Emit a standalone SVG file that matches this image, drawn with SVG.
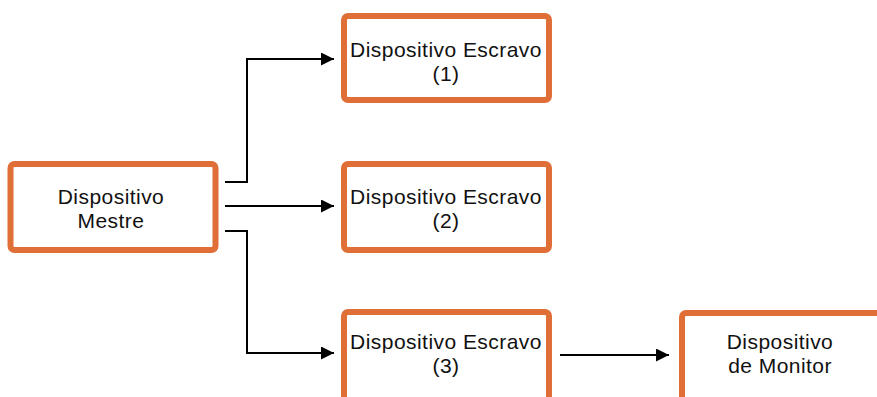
<svg xmlns="http://www.w3.org/2000/svg" width="877" height="397" viewBox="0 0 877 397">
<style>
.box{fill:#fff;stroke:#E06E37;stroke-width:6}
.lbl{font-family:"Liberation Sans",Arial,sans-serif;font-size:21px;letter-spacing:0.45px;fill:#111;text-anchor:middle}
.con{fill:none;stroke:#000;stroke-width:2}
</style>
<defs>
<marker id="ah" viewBox="0 0 10 10" refX="10" refY="5" markerWidth="6.5" markerHeight="6.5" orient="auto" markerUnits="strokeWidth">
<path d="M0,0 L10,5 L0,10 z" fill="#000"/>
</marker>
</defs>
<rect width="877" height="397" fill="#fff"/>
<g id="master">
<rect class="box" x="10.5" y="164" width="205" height="86" rx="4"/>
<text class="lbl" x="111" y="204">Dispositivo</text>
<text class="lbl" x="111" y="228">Mestre</text>
</g>
<g id="slave1">
<rect class="box" x="344" y="16" width="205" height="84" rx="4"/>
<text class="lbl" x="446" y="57">Dispositivo Escravo</text>
<text class="lbl" x="446" y="81">(1)</text>
</g>
<g id="slave2">
<rect class="box" x="344" y="164" width="205" height="86" rx="4"/>
<text class="lbl" x="446" y="204">Dispositivo Escravo</text>
<text class="lbl" x="446" y="228">(2)</text>
</g>
<g id="slave3">
<rect class="box" x="344" y="312" width="205" height="100" rx="4"/>
<text class="lbl" x="446" y="349">Dispositivo Escravo</text>
<text class="lbl" x="446" y="373">(3)</text>
</g>
<g id="monitor">
<rect class="box" x="682" y="313" width="220" height="100" rx="4"/>
<text class="lbl" x="780" y="349">Dispositivo</text>
<text class="lbl" x="780" y="373">de Monitor</text>
</g>
<g id="connectors">
<path class="con" d="M225,182 H247 V59 H334" marker-end="url(#ah)"/>
<path class="con" d="M225,206 H334" marker-end="url(#ah)"/>
<path class="con" d="M225,231 H247 V353 H334" marker-end="url(#ah)"/>
<path class="con" d="M560,355 H669" marker-end="url(#ah)"/>
</g>
</svg>
